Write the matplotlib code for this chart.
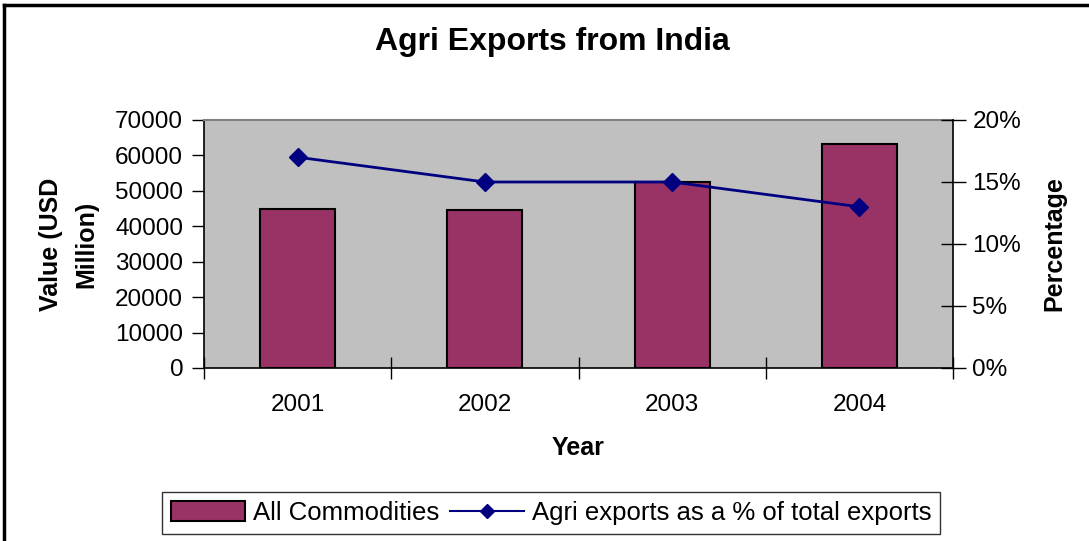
import matplotlib
matplotlib.use("Agg")
import matplotlib.pyplot as plt
from matplotlib.lines import Line2D
from matplotlib.ticker import FixedLocator, FuncFormatter

plt.rcParams['font.family'] = ['Liberation Sans', 'DejaVu Sans']

years = ["2001", "2002", "2003", "2004"]
all_commodities = [45000, 44600, 52600, 63200]          # USD million
agri_share = [0.17, 0.15, 0.15, 0.13]                    # share of total exports
left_ticks = [0, 10000, 20000, 30000, 40000, 50000, 60000, 70000]
right_ticks = [0.0, 0.05, 0.10, 0.15, 0.20]

W, H = 1089, 541
fig = plt.figure(figsize=(W / 100, H / 100), dpi=100)
fig.patch.set_facecolor("white")

ax = fig.add_axes([204 / W, 1 - 368 / H, (953 - 204) / W, (368 - 120) / H])
ax.set_facecolor("#C0C0C0")

x = list(range(len(years)))
ax.bar(x, all_commodities, width=0.4, color="#993366", edgecolor="black",
       linewidth=1.5, zorder=2, label="All Commodities")
ax.set_xlim(-0.5, len(years) - 0.5)
ax.set_ylim(0, 70000)
ax.yaxis.set_major_locator(FixedLocator(left_ticks))
ax.set_xticks(x)
ax.set_xticklabels(years)
ax.xaxis.set_minor_locator(FixedLocator([i - 0.5 for i in range(len(years) + 1)]))
ax.tick_params(axis="x", which="major", length=0, pad=19, labelsize=17.5)
ax.tick_params(axis="x", which="minor", direction="inout", length=16, width=1)
ax.tick_params(axis="y", direction="out", length=9, width=1, pad=6, labelsize=17.5)

for side in ("left", "bottom"):
    ax.spines[side].set_color("black")
    ax.spines[side].set_linewidth(1.2)
ax.spines["top"].set_color("#808080")
ax.spines["top"].set_linewidth(1.5)
ax.spines["right"].set_visible(False)

ax.set_xlabel("Year", fontsize=18, fontweight="bold", labelpad=14)
ax.set_ylabel("Value (USD\nMillion)", fontsize=18, fontweight="bold",
              labelpad=12, linespacing=1.6)

ax2 = ax.twinx()
ax2.plot(x, agri_share, color="#000080", linewidth=2, marker="D",
         markersize=9, zorder=3, label="Agri exports as a % of total exports")
ax2.set_ylim(0, 0.20)
ax2.yaxis.set_major_locator(FixedLocator(right_ticks))
ax2.yaxis.set_major_formatter(FuncFormatter(lambda v, p: f"{v * 100:.0f}%"))
ax2.tick_params(axis="y", direction="inout", length=18, width=1, pad=5,
                labelsize=17.5)
for side in ("left", "top", "bottom"):
    ax2.spines[side].set_visible(False)
ax2.spines["right"].set_color("black")
ax2.spines["right"].set_linewidth(1.2)
ax2.set_ylabel("Percentage", fontsize=18, fontweight="bold", labelpad=15)

fig.suptitle("Agri Exports from India", x=552 / W, y=1 - 27 / H,
             fontsize=23, fontweight="bold", va="top")

bar_handle = plt.Rectangle((0, 0), 1, 1, facecolor="#993366",
                           edgecolor="black", linewidth=1.5)
line_handle = Line2D([0], [0], color="#000080", linewidth=1.5, marker="D",
                     markersize=7)
leg = fig.legend([bar_handle, line_handle],
                 ["All Commodities", "Agri exports as a % of total exports"],
                 loc="center", bbox_to_anchor=(551 / W, 1 - 513 / H), ncol=2,
                 fontsize=18.5, frameon=True, fancybox=False, edgecolor="black",
                 handlelength=2.9, handleheight=0.8, handletextpad=0.3,
                 columnspacing=0.4, borderpad=0.35, borderaxespad=0)
leg.get_frame().set_linewidth(1.0)

# outer frame of the chart area (top and left edges)
fig.add_artist(Line2D([4 / W, 1], [1 - 5 / H, 1 - 5 / H], color="black",
                      linewidth=2.5, transform=fig.transFigure))
fig.add_artist(Line2D([4 / W, 4 / W], [0, 1 - 5 / H], color="black",
                      linewidth=2.5, transform=fig.transFigure))

fig.savefig("out.png", dpi=100)
